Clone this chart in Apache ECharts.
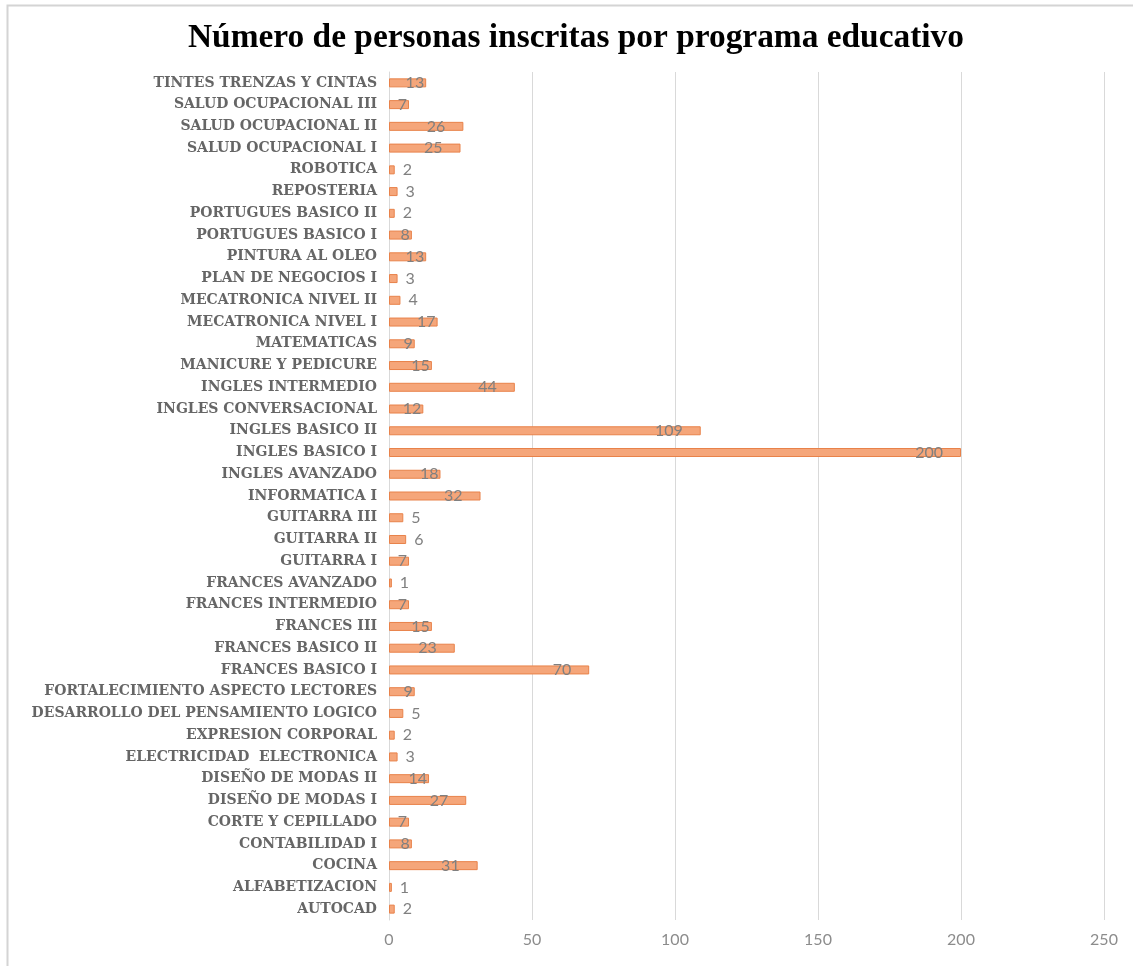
<!DOCTYPE html>
<html>
<head>
<meta charset="utf-8">
<script src="https://cdn.jsdelivr.net/npm/echarts@6/dist/echarts.min.js"></script>
<style>
html,body{margin:0;padding:0;background:#fff;}
#chart{width:1133px;height:966px;}
</style>
</head>
<body>
<div id="chart"></div>
<script>
// Categories listed bottom to top (as drawn by a category y axis)
var categories = [
  "AUTOCAD",
  "ALFABETIZACION",
  "COCINA",
  "CONTABILIDAD I",
  "CORTE Y CEPILLADO",
  "DISEÑO DE MODAS I",
  "DISEÑO DE MODAS II",
  "ELECTRICIDAD  ELECTRONICA",
  "EXPRESION CORPORAL",
  "DESARROLLO DEL PENSAMIENTO LOGICO",
  "FORTALECIMIENTO ASPECTO LECTORES",
  "FRANCES BASICO I",
  "FRANCES BASICO II",
  "FRANCES III",
  "FRANCES INTERMEDIO",
  "FRANCES AVANZADO",
  "GUITARRA I",
  "GUITARRA II",
  "GUITARRA III",
  "INFORMATICA I",
  "INGLES AVANZADO",
  "INGLES BASICO I",
  "INGLES BASICO II",
  "INGLES CONVERSACIONAL",
  "INGLES INTERMEDIO",
  "MANICURE Y PEDICURE",
  "MATEMATICAS",
  "MECATRONICA NIVEL I",
  "MECATRONICA NIVEL II",
  "PLAN DE NEGOCIOS I",
  "PINTURA AL OLEO",
  "PORTUGUES BASICO I",
  "PORTUGUES BASICO II",
  "REPOSTERIA",
  "ROBOTICA",
  "SALUD OCUPACIONAL I",
  "SALUD OCUPACIONAL II",
  "SALUD OCUPACIONAL III",
  "TINTES TRENZAS Y CINTAS"
];
var inscritos = [
  2, 1, 31, 8, 7, 27, 14, 3, 2, 5, 9,
  70, 23, 15, 7, 1, 7, 6, 5, 32, 18, 200, 109, 12, 44,
  15, 9, 17, 4, 3, 13, 8, 2, 3, 2, 25, 26, 7, 13
];
var xTicks = [0, 50, 100, 150, 200, 250];
var title = "Número de personas inscritas por programa educativo";

var seriesData = inscritos.map(function (v) {
  var lbl;
  if (v >= 20) {
    lbl = { position: 'insideRight', distance: 18 };
  } else if (v >= 7) {
    lbl = { position: 'insideRight', distance: 2 };
  } else {
    lbl = { position: 'right', distance: 8 };
  }
  return { value: v, label: lbl };
});

var chart = echarts.init(document.getElementById('chart'));
chart.setOption({
  backgroundColor: '#ffffff',
  animation: false,
  title: {
    text: title,
    left: 571,
    textAlign: 'center',
    top: 17,
    textStyle: {
      fontFamily: 'Liberation Serif',
      fontWeight: 'bold',
      fontSize: 33.4,
      color: '#000000'
    }
  },
  graphic: [{
    type: 'rect',
    shape: { x: 7.5, y: 5.5, width: 1140, height: 970 },
    style: { fill: 'none', stroke: '#d4d4d4', lineWidth: 2 },
    silent: true
  }],
  grid: { left: 389, right: 29, top: 72, bottom: 46, containLabel: false },
  xAxis: {
    type: 'value',
    min: xTicks[0],
    max: xTicks[xTicks.length - 1],
    interval: xTicks[1] - xTicks[0],
    axisLine: { show: false },
    axisTick: { show: false },
    splitLine: { show: true, lineStyle: { color: '#d9d9d9', width: 1 } },
    axisLabel: {
      fontFamily: 'Lato',
      fontSize: 16,
      color: '#8c8c8c',
      margin: 12
    }
  },
  yAxis: {
    type: 'category',
    data: categories,
    axisLine: { show: true, lineStyle: { color: '#d9d9d9' } },
    axisTick: { show: false },
    axisLabel: {
      fontFamily: 'DejaVu Serif',
      fontWeight: 'bold',
      fontSize: 14,
      color: '#666666',
      margin: 12
    }
  },
  series: [{
    type: 'bar',
    data: seriesData,
    barWidth: 9,
    itemStyle: {
      color: '#F5A67A',
      borderColor: '#E8824A',
      borderWidth: 1
    },
    label: {
      show: true,
      fontFamily: 'Lato',
      fontSize: 16,
      color: '#808080'
    }
  }]
});
</script>
</body>
</html>
